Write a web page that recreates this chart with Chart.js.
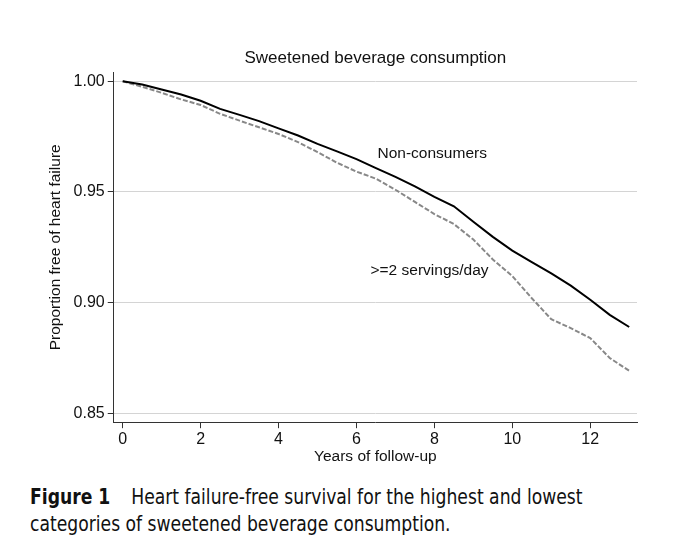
<!DOCTYPE html>
<html>
<head>
<meta charset="utf-8">
<script src="https://cdn.jsdelivr.net/npm/chart.js@4/dist/chart.umd.min.js"></script>
<style>
  body { margin: 0; background: #fff; }
  #wrap { position: absolute; left: 0; top: 0; width: 674px; height: 476px; }
  #caption {
    position: absolute; left: 30px; top: 484px; width: 700px;
    font-family: "DejaVu Sans", sans-serif; font-stretch: condensed;
    font-size: 21px; line-height: 27px; color: #111;
    transform: scaleX(0.91); transform-origin: 0 0;
  }
  #caption b { margin-right: 17px; }
</style>
</head>
<body>
<div id="wrap"><canvas id="kmChart" width="674" height="476"></canvas></div>
<div id="caption"><b>Figure 1</b> Heart failure-free survival for the highest and lowest<br>categories of sweetened beverage consumption.</div>
<script>
const years = [0, 0.5, 1, 1.5, 2, 2.5, 3, 3.5, 4, 4.5, 5, 5.5, 6, 6.5, 7, 7.5, 8, 8.5, 9, 9.5, 10, 10.5, 11, 11.5, 12, 12.5, 13];
const nonConsumers = [1.000, 0.9985, 0.9963, 0.9940, 0.9912, 0.9875, 0.9848, 0.9820, 0.9787, 0.9755, 0.9717, 0.9683, 0.9648, 0.9608, 0.9568, 0.9525, 0.9478, 0.9435, 0.9365, 0.9297, 0.9235, 0.9183, 0.9132, 0.9077, 0.9013, 0.8945, 0.8890];
const twoPlus = [1.000, 0.9975, 0.9948, 0.9918, 0.9893, 0.9853, 0.9822, 0.9792, 0.9762, 0.9725, 0.9680, 0.9632, 0.9592, 0.9560, 0.9510, 0.9455, 0.9400, 0.9355, 0.9285, 0.9195, 0.9120, 0.9020, 0.8925, 0.8885, 0.8840, 0.8750, 0.8692];
const xTicks = [0, 2, 4, 6, 8, 10, 12];
const yTicks = [0.85, 0.90, 0.95, 1.00];

const font = 'Liberation Sans, Arial, sans-serif';

// curve labels placed in data coordinates
const curveLabels = {
  id: 'curveLabels',
  afterDatasetsDraw(chart) {
    const { ctx, scales } = chart;
    ctx.save();
    ctx.font = '15.5px ' + font;
    ctx.fillStyle = '#111';
    ctx.textBaseline = 'middle';
    ctx.fillText('Non-consumers', scales.x.getPixelForValue(6.54), scales.y.getPixelForValue(0.9674));
    ctx.fillText('>=2 servings/day', scales.x.getPixelForValue(6.36), scales.y.getPixelForValue(0.9145));
    ctx.restore();
  }
};

new Chart(document.getElementById('kmChart').getContext('2d'), {
  type: 'line',
  data: {
    datasets: [
      {
        label: 'Non-consumers',
        data: years.map((x, i) => ({ x, y: nonConsumers[i] })),
        borderColor: '#000',
        borderWidth: 2,
        pointRadius: 0,
        tension: 0
      },
      {
        label: '>=2 servings/day',
        data: years.map((x, i) => ({ x, y: twoPlus[i] })),
        borderColor: '#888',
        borderWidth: 2,
        borderDash: [5, 2],
        pointRadius: 0,
        tension: 0
      }
    ]
  },
  options: {
    responsive: false,
    animation: false,
    layout: { padding: { left: 46, right: 37, top: 48, bottom: 10 } },
    plugins: {
      legend: { display: false },
      tooltip: { enabled: false },
      title: {
        display: true,
        text: 'Sweetened beverage consumption',
        fullSize: false,
        color: '#111',
        font: { family: font, size: 17, weight: 'normal' },
        padding: { top: 0, bottom: 4 }
      }
    },
    scales: {
      x: {
        type: 'linear',
        min: -0.23,
        max: 13.2,
        afterBuildTicks: (axis) => { axis.ticks = xTicks.map(v => ({ value: v })); },
        ticks: { color: '#111', font: { family: font, size: 16 }, padding: 2, maxRotation: 0 },
        grid: { drawOnChartArea: false, tickColor: '#333', tickLength: 6 },
        border: { color: '#333', width: 1 },
        title: {
          display: true, text: 'Years of follow-up', color: '#111',
          font: { family: font, size: 15.5 }, padding: { top: -4, bottom: 0 }
        }
      },
      y: {
        min: 0.846,
        max: 1.004,
        afterBuildTicks: (axis) => { axis.ticks = yTicks.map(v => ({ value: v })); },
        ticks: { color: '#111', font: { family: font, size: 16 }, padding: 3, callback: v => v.toFixed(2) },
        grid: { color: '#d4d4d4', tickColor: '#333', tickLength: 6 },
        border: { color: '#333', width: 1 },
        title: {
          display: true, text: 'Proportion free of heart failure', color: '#111',
          font: { family: font, size: 15.5 }, padding: { top: 0, bottom: 6 }
        }
      }
    }
  },
  plugins: [curveLabels]
});
</script>
</body>
</html>
